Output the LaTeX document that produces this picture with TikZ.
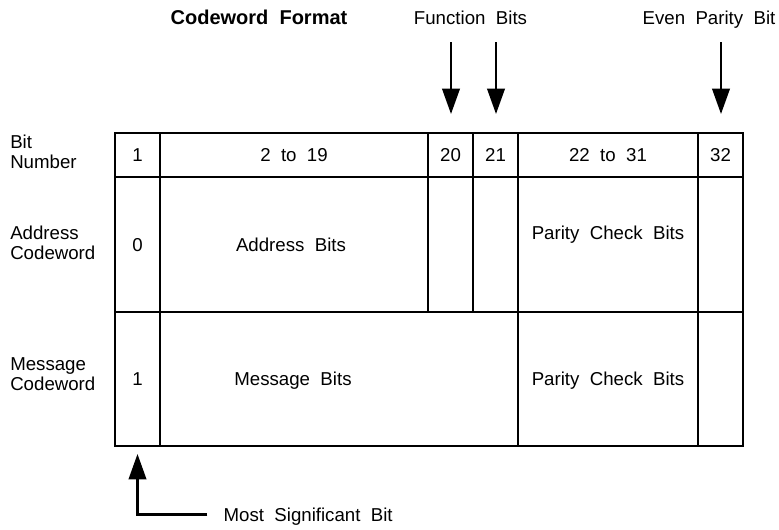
\documentclass[tikz,border=0pt]{standalone}
\usepackage{fontspec}
\setmainfont{Liberation Sans}
\usetikzlibrary{positioning, arrows.meta}
\newcommand{\cwfont}{\fontsize{14}{15}\selectfont}

\begin{document}
\begin{tikzpicture}[x=0.75pt, y=-0.75pt,
    cell/.style={rectangle, draw=black, line width=1.4pt, inner sep=0pt, text depth=0pt, font=\cwfont},
    tag/.style={align=left, anchor=west, inner sep=0pt, font=\cwfont},
    txt/.style={inner sep=1pt, text depth=0pt, font=\cwfont},
    arr/.style={line width=2pt, -{Triangle[length=19pt, width=13pt]}}
]
\useasboundingbox (0,0) rectangle (779,529);

% Titles above the table
\node[txt, font=\fontsize{15}{18}\selectfont\bfseries] (title) at (259,17.5) {Codeword\ \ Format};
\node[txt] (fbits) at (470.5,17.5) {Function\ \ Bits};
\node[txt] (epbit) at (709,17.5) {Even\ \ Parity\ \ Bit};

% Row labels
\node[tag] (bitnum) at (10,152) {Bit\\Number};
\node[tag] (addrlbl) at (10,243) {Address\\Codeword};
\node[tag] (msglbl) at (10,374) {Message\\Codeword};

% Bit number row
\node[cell, minimum width=33.75pt, minimum height=33pt] (h1) at (137.5,155) {1};
\node[cell, minimum width=201pt, minimum height=33pt] (h2) at (294,155) {2\ \ to\ \ 19};
\node[cell, minimum width=33.75pt, minimum height=33pt] (h20) at (450.5,155) {20};
\node[cell, minimum width=33.75pt, minimum height=33pt] (h21) at (495.5,155) {21};
\node[cell, minimum width=135pt, minimum height=33pt] (h22) at (608,155) {22\ \ to\ \ 31};
\node[cell, minimum width=33.75pt, minimum height=33pt] (h32) at (720.5,155) {32};

% Address codeword row
\node[cell, minimum width=33.75pt, minimum height=101.25pt] (a1) at (137.5,244.5) {0};
\node[cell, minimum width=201pt, minimum height=101.25pt] (a2) at (294,244.5) {};
\node[cell, minimum width=33.75pt, minimum height=101.25pt] (a20) at (450.5,244.5) {};
\node[cell, minimum width=33.75pt, minimum height=101.25pt] (a21) at (495.5,244.5) {};
\node[cell, minimum width=135pt, minimum height=101.25pt] (a22) at (608,244.5) {};
\node[cell, minimum width=33.75pt, minimum height=101.25pt] (a32) at (720.5,244.5) {};
\node[txt] (abits) at (291,244.5) {Address\ \ Bits};
\node[txt] (aparity) at (608,233) {Parity\ \ Check\ \ Bits};

% Message codeword row
\node[cell, minimum width=33.75pt, minimum height=100.5pt] (m1) at (137.5,379) {1};
\node[cell, minimum width=268.5pt, minimum height=100.5pt] (m2) at (339,379) {};
\node[cell, minimum width=135pt, minimum height=100.5pt] (m22) at (608,379) {Parity\ \ Check\ \ Bits};
\node[cell, minimum width=33.75pt, minimum height=100.5pt] (m32) at (720.5,379) {};
\node[txt] (mbits) at (293,379) {Message\ \ Bits};

% Pointer arrows
\coordinate (f20) at (451,42);
\coordinate (f21) at (496,42);
\coordinate (f32) at (721,42);
\draw[arr, shorten >=13.5pt] (f20) -- (f20 |- h20.north);
\draw[arr, shorten >=13.5pt] (f21) -- (f21 |- h21.north);
\draw[arr, shorten >=13.5pt] (f32) -- (f32 |- h32.north);

\node[txt, anchor=west] (msb) at (222,514.5) {Most\ \ Significant\ \ Bit};
\draw[arr, shorten <=11pt, shorten >=5.25pt] (msb.west) -| (m1.south);

\end{tikzpicture}
\end{document}
